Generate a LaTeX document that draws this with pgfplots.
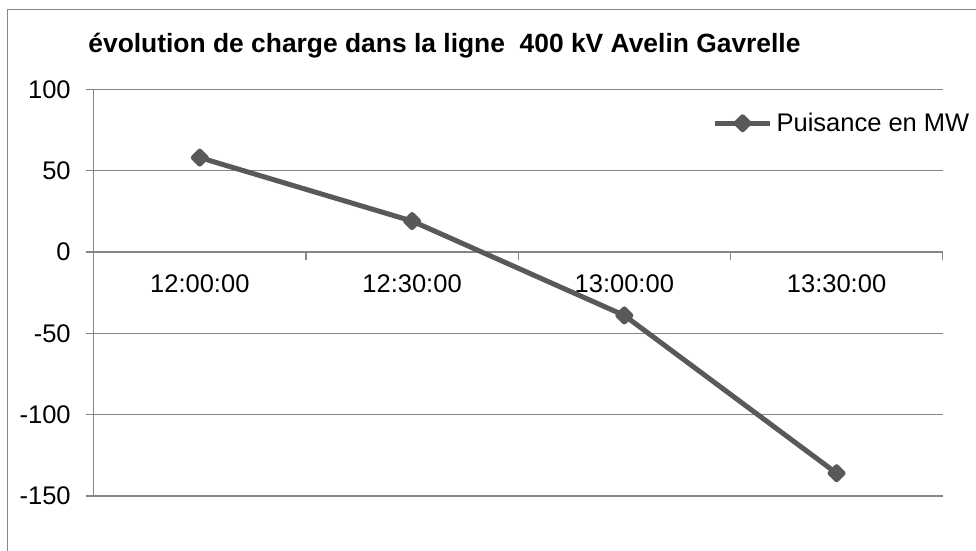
\documentclass[border=0pt]{standalone}
\usepackage{pgfplots}
\pgfplotsset{compat=1.18}
\usepackage{fontspec}
\setmainfont{Liberation Sans}
\definecolor{gridgray}{RGB}{134,134,134}
\definecolor{linegray}{RGB}{89,89,89}
\begin{document}
\begin{tikzpicture}
\useasboundingbox (0,0) rectangle (488pt,275.5pt);
\clip (0,0) rectangle (488pt,275.5pt);
\draw[gridgray, line width=0.65pt] (3.65pt,-20pt) -- (3.65pt,270.85pt) -- (520pt,270.85pt);
\node[anchor=base west, font=\fontsize{13.2}{15}\selectfont\bfseries, inner sep=0pt] at (44pt,249.15pt) {évolution de charge dans la ligne\ \ 400 kV Avelin Gavrelle};
\begin{axis}[
 at={(46.85pt,27.5pt)}, anchor=south west,
 scale only axis, width=424.5pt, height=203.35pt,
 xmin=-0.5, xmax=3.5, ymin=-150, ymax=100,
 axis y line*=left, axis x line*=middle,
 hide obscured x ticks=false, hide obscured y ticks=false,
 axis line style={gridgray, line width=0.65pt, -},
 ytick={-150,-100,-50,0,50,100},
 xtick={0,1,2,3}, xticklabels={12:00:00,12:30:00,13:00:00,13:30:00},
 minor xtick={0.5,1.5,2.5,3.5},
 major x tick style={draw=none},
 tick align=outside,
 major tick length=4pt, minor tick length=4pt,
 tick style={gridgray, line width=0.65pt},
 ymajorgrids, major grid style={gridgray, line width=0.65pt},
 ticklabel style={font=\fontsize{12.75}{15}\selectfont},
 yticklabel style={xshift=-4pt},
 xticklabel style={yshift=-4pt},
 /pgf/number format/assume math mode=true,
 legend style={draw=none, fill=none, at={(axis description cs:0.7285,0.9164)}, anchor=west, inner sep=0pt, font=\fontsize{12.75}{15}\selectfont},
 legend image code/.code={\draw[mark repeat=2,mark phase=2,#1] plot coordinates {(0pt,0pt) (13.75pt,0pt) (27.5pt,0pt)};},
 clip=false,
]
\addplot[linegray, line width=2.5pt, line join=round, mark=square*, mark size=2.3pt, mark options={rotate=45, solid}] coordinates {(0,58) (1,19) (2,-39) (3,-136)};
\addlegendentry{Puisance en MW}
\end{axis}
\end{tikzpicture}
\end{document}
